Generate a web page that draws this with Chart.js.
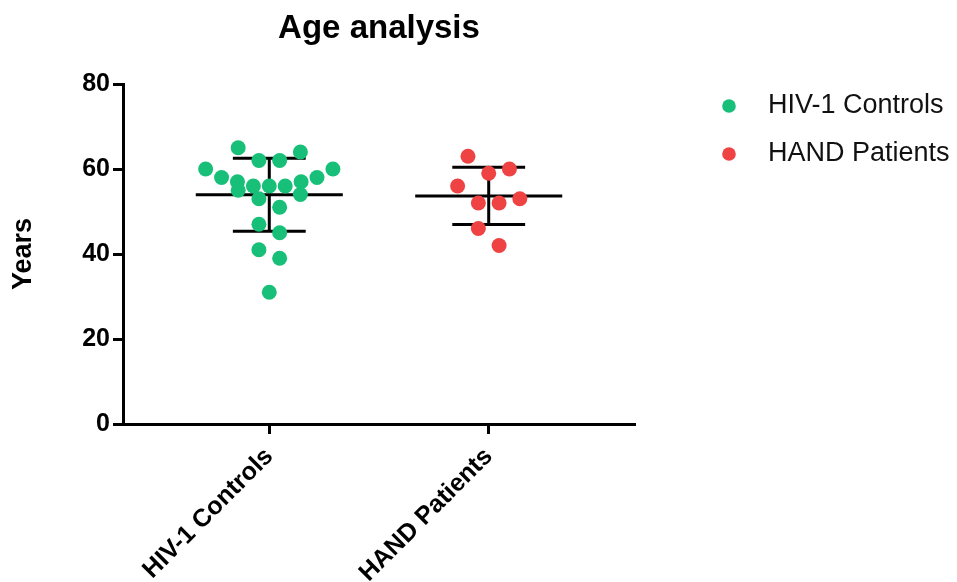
<!DOCTYPE html>
<html>
<head>
<meta charset="utf-8">
<title>Age analysis</title>
<script src="https://cdn.jsdelivr.net/npm/chart.js@4.4.1/dist/chart.umd.min.js"></script>
<style>
  html, body { margin: 0; padding: 0; background: #ffffff; }
  #wrap { width: 957px; height: 582px; }
</style>
</head>
<body>
<div id="wrap"><canvas id="ageChart" width="957" height="582"></canvas></div>
<script>
// Groups shown on the x axis
const categories = ['HIV-1 Controls', 'HAND Patients'];

// Age (years) of every subject in each group
const hivControlsAges = [65, 64, 62, 62, 60, 60, 58, 58, 57, 57, 56, 56, 56, 55, 54, 53, 51, 47, 45, 41, 39, 31];
const handPatientsAges = [63, 60, 59, 56, 53, 52, 52, 46, 42];

// Y axis tick values
const yTicks = [0, 20, 40, 60, 80];

const groupColors = ['#17bf78', '#ef4242'];
const FONT = '"Liberation Sans", Arial, Helvetica, sans-serif';

// Dot-plot layout: values within ROW_HEIGHT of a row's first value share a row,
// and each row is spread symmetrically around the category centre.
const ROW_HEIGHT = 4.5;
const DOT_STEP = 0.0945;
const ROW_MAX_WIDTH = 0.58;
const MEAN_HALF = 0.335;
const CAP_HALF = 0.166;

function spreadRows(values, center) {
  const sorted = values.slice().sort((a, b) => b - a);
  const rows = [];
  let row = [];
  for (const v of sorted) {
    if (row.length && row[0] - v >= ROW_HEIGHT) { rows.push(row); row = []; }
    row.push(v);
  }
  if (row.length) rows.push(row);
  const pts = [];
  for (const r of rows) {
    const n = r.length;
    const step = n > 1 ? Math.min(DOT_STEP, ROW_MAX_WIDTH / (n - 1)) : 0;
    const slots = Array.from({ length: n }, (_, i) => center + (i - (n - 1) / 2) * step);
    let lo = 0, hi = n - 1;
    r.forEach((v, i) => {
      const x = i % 2 === 0 ? slots[lo++] : slots[hi--];
      pts.push({ x, y: v });
    });
  }
  return pts;
}

function mean(a) { return a.reduce((s, v) => s + v, 0) / a.length; }
function sd(a) {
  const m = mean(a);
  return Math.sqrt(a.reduce((s, v) => s + (v - m) * (v - m), 0) / (a.length - 1));
}

// Mean line with ±SD whiskers, as one broken polyline
function meanSdPath(values, center) {
  const m = mean(values), s = sd(values);
  const gap = { x: center, y: null };
  return [
    { x: center - MEAN_HALF, y: m }, { x: center + MEAN_HALF, y: m }, gap,
    { x: center - CAP_HALF, y: m + s }, { x: center + CAP_HALF, y: m + s }, gap,
    { x: center - CAP_HALF, y: m - s }, { x: center + CAP_HALF, y: m - s }, gap,
    { x: center, y: m + s }, { x: center, y: m - s }
  ];
}

const groups = [hivControlsAges, handPatientsAges];

const dotSets = groups.map((vals, i) => ({
  label: categories[i],
  data: spreadRows(vals, i + 1),
  backgroundColor: groupColors[i],
  borderWidth: 0,
  pointRadius: 7.5,
  pointHoverRadius: 7.5,
  order: 0
}));

const barSets = groups.map((vals, i) => ({
  label: categories[i] + ' mean ± SD',
  data: meanSdPath(vals, i + 1),
  showLine: true,
  spanGaps: false,
  borderColor: '#000000',
  borderWidth: 3,
  borderCapStyle: 'butt',
  pointRadius: 0,
  order: 1
}));

// Legend drawn at the right of the plot
const sideLegend = {
  id: 'sideLegend',
  afterDraw(chart, args, opts) {
    const ctx = chart.ctx;
    ctx.save();
    ctx.font = opts.font;
    ctx.textBaseline = 'middle';
    ctx.textAlign = 'left';
    dotSets.forEach((ds, i) => {
      const y = opts.top + i * opts.rowGap;
      ctx.beginPath();
      ctx.fillStyle = ds.backgroundColor;
      ctx.arc(opts.dotX, y, opts.dotRadius, 0, Math.PI * 2);
      ctx.fill();
      ctx.fillStyle = '#111111';
      ctx.fillText(ds.label, opts.textX, y);
    });
    ctx.restore();
  }
};

new Chart(document.getElementById('ageChart'), {
  type: 'scatter',
  data: { datasets: [...dotSets, ...barSets] },
  plugins: [sideLegend],
  options: {
    responsive: false,
    animation: false,
    events: [],
    layout: { padding: { top: 0, right: 322, bottom: 0, left: 0 } },
    plugins: {
      legend: { display: false },
      tooltip: { enabled: false },
      title: {
        display: true,
        text: 'Age analysis',
        fullSize: false,
        color: '#000000',
        font: { family: FONT, size: 33, weight: 'bold', lineHeight: 1.2 },
        padding: { top: 9, bottom: 35.4 }
      },
      sideLegend: {
        font: '27px ' + FONT,
        dotX: 729,
        textX: 768,
        top: 106,
        rowGap: 48,
        dotRadius: 6.8
      }
    },
    scales: {
      x: {
        type: 'linear',
        min: 1 / 3,
        max: 8 / 3,
        afterBuildTicks: (scale) => { scale.ticks = categories.map((_, i) => ({ value: i + 1 })); },
        afterFit: (scale) => { scale.height = 158; },
        ticks: {
          autoSkip: false,
          minRotation: 45,
          maxRotation: 45,
          padding: 8,
          color: '#000000',
          font: { family: FONT, size: 25, weight: 'bold' },
          callback: (value) => categories[value - 1] || ''
        },
        grid: {
          drawOnChartArea: false,
          drawTicks: true,
          tickLength: 10,
          tickWidth: 3,
          color: '#000000'
        },
        border: { display: true, color: '#000000', width: 3 }
      },
      y: {
        min: 0,
        max: 80,
        afterBuildTicks: (scale) => { scale.ticks = yTicks.map(v => ({ value: v })); },
        afterFit: (scale) => { scale.width = 123; },
        ticks: {
          padding: 3,
          color: '#000000',
          font: { family: FONT, size: 25, weight: 'bold' }
        },
        title: {
          display: true,
          text: 'Years',
          color: '#000000',
          font: { family: FONT, size: 27, weight: 'bold', lineHeight: 1.2 },
          padding: { top: 7, bottom: 0 }
        },
        grid: {
          drawOnChartArea: false,
          drawTicks: true,
          tickLength: 10,
          tickWidth: 3,
          color: '#000000'
        },
        border: { display: true, color: '#000000', width: 3 }
      }
    }
  }
});
</script>
</body>
</html>
